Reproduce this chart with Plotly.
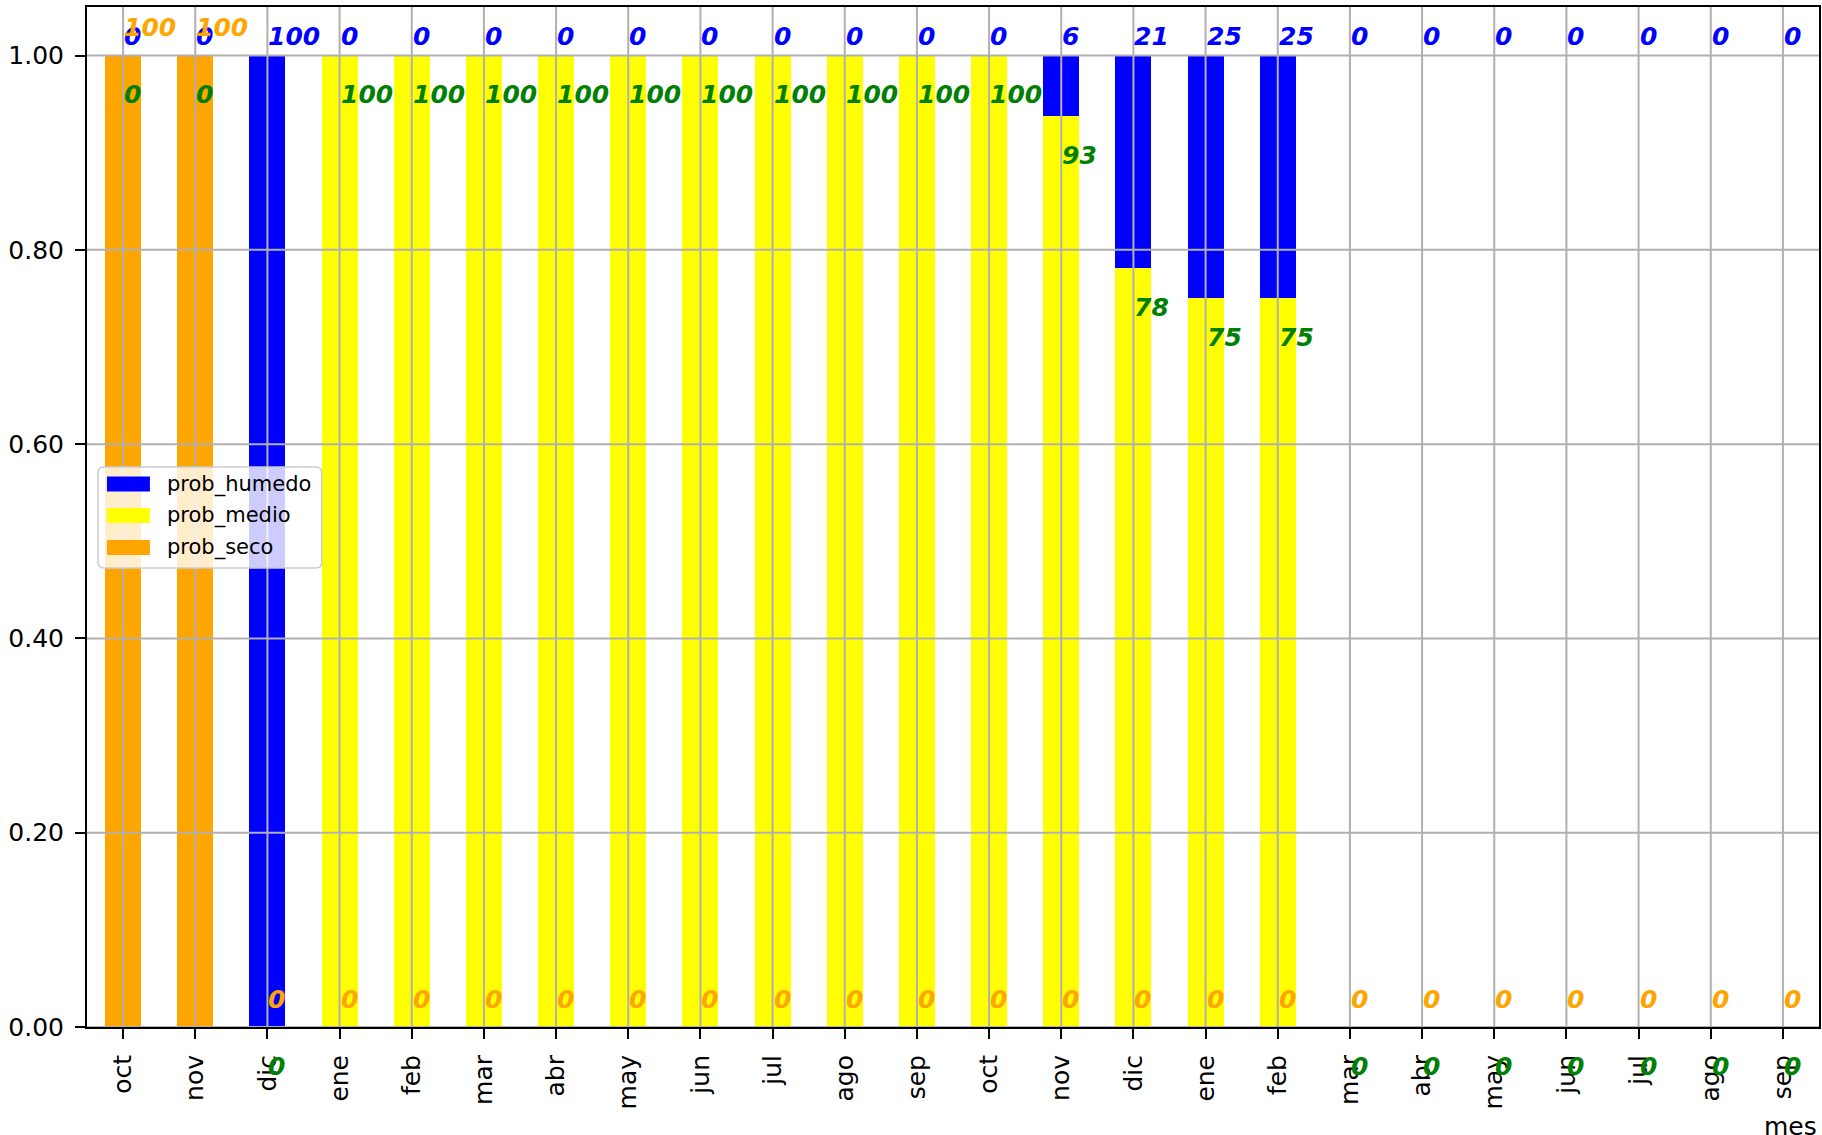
import plotly.graph_objects as go

# Month labels for the two hydrological years shown
meses = ["oct", "nov", "dic", "ene", "feb", "mar", "abr", "may", "jun", "jul", "ago", "sep",
         "oct", "nov", "dic", "ene", "feb", "mar", "abr", "may", "jun", "jul", "ago", "sep"]

# Probabilities of each scenario per month (fractions of 1)
prob_seco = [1.0, 1.0, 0.0, 0.0, 0.0, 0.0, 0.0, 0.0, 0.0, 0.0, 0.0, 0.0,
             0.0, 0.0, 0.0, 0.0, 0.0, 0.0, 0.0, 0.0, 0.0, 0.0, 0.0, 0.0]
prob_medio = [0.0, 0.0, 0.0, 1.0, 1.0, 1.0, 1.0, 1.0, 1.0, 1.0, 1.0, 1.0,
              1.0, 0.9375, 0.78125, 0.75, 0.75, 0.0, 0.0, 0.0, 0.0, 0.0, 0.0, 0.0]
prob_humedo = [0.0, 0.0, 1.0, 0.0, 0.0, 0.0, 0.0, 0.0, 0.0, 0.0, 0.0, 0.0,
               0.0, 0.0625, 0.21875, 0.25, 0.25, 0.0, 0.0, 0.0, 0.0, 0.0, 0.0, 0.0]

yticks = [0.0, 0.2, 0.4, 0.6, 0.8, 1.0]

series = [("prob_seco", prob_seco, "#ffa500"),
          ("prob_medio", prob_medio, "#ffff00"),
          ("prob_humedo", prob_humedo, "#0000ff")]

FONT = "DejaVu Sans"
GRID = "#b0b0b0"
W, H = 1822, 1135
ML, MR, MT, MB = 87, 1, 7, 108
PW, PH = W - ML - MR, H - MT - MB
x = list(range(len(meses)))


def px(X):
    """Pixel column -> paper x."""
    return (X - ML) / PW


def py(Y):
    """Pixel row -> paper y."""
    return (H - MB - Y) / PH


fig = go.Figure()
for name, vals, color in series:
    fig.add_trace(go.Bar(x=x, y=vals, name=name, width=0.5, showlegend=False,
                         marker=dict(color=color, line=dict(width=0))))

# Grid drawn on top of the bars
for xi in x:
    fig.add_shape(type="line", xref="x", yref="paper", x0=xi, x1=xi, y0=0, y1=1,
                  line=dict(color=GRID, width=2), layer="above")
for yv in yticks:
    fig.add_shape(type="line", xref="paper", yref="y", x0=0, x1=1, y0=yv, y1=yv,
                  line=dict(color=GRID, width=2), layer="above")


# Percentage labels (truncated to integers)
def label(xi, yv, shift, val, color):
    fig.add_annotation(x=xi, y=yv, xref="x", yref="y", yshift=shift,
                       text=str(int(val * 100)),
                       showarrow=False, xanchor="left", yanchor="middle",
                       borderpad=0,
                       font=dict(family=FONT, size=25, color=color,
                                 weight="bold", style="italic"))


for i in x:
    label(i, 1.0, 19, prob_humedo[i], "#0000ff")
for i in x:
    label(i, prob_seco[i] + prob_medio[i], -39, prob_medio[i], "#008000")
for i in x:
    label(i, prob_seco[i], 28, prob_seco[i], "#ffa500")

# Legend box (semi-transparent frame with rounded corners)
bx0, bx1, by0, by1 = 98, 322, 467, 568
r = 6
path = (f"M{px(bx0 + r)},{py(by0)} L{px(bx1 - r)},{py(by0)} "
        f"Q{px(bx1)},{py(by0)} {px(bx1)},{py(by0 + r)} "
        f"L{px(bx1)},{py(by1 - r)} Q{px(bx1)},{py(by1)} {px(bx1 - r)},{py(by1)} "
        f"L{px(bx0 + r)},{py(by1)} Q{px(bx0)},{py(by1)} {px(bx0)},{py(by1 - r)} "
        f"L{px(bx0)},{py(by0 + r)} Q{px(bx0)},{py(by0)} {px(bx0 + r)},{py(by0)} Z")
fig.add_shape(type="path", xref="paper", yref="paper", path=path,
              fillcolor="rgba(255,255,255,0.8)", line=dict(color="#cccccc", width=1.5),
              layer="above")
row_centers = [484, 515.5, 547.5]
for (name, _, color), yc in zip(reversed(series), row_centers):
    fig.add_shape(type="rect", xref="paper", yref="paper",
                  x0=px(107), x1=px(150), y0=py(yc - 7.5), y1=py(yc + 7.5),
                  fillcolor=color, line=dict(width=0), layer="above")
    fig.add_annotation(x=px(166), y=py(yc), xref="paper", yref="paper", text=name,
                       showarrow=False, xanchor="left", yanchor="middle", borderpad=0,
                       font=dict(family=FONT, size=21, color="black"))

fig.add_annotation(x=1, y=-0.098, xref="paper", yref="paper", text="mes",
                   showarrow=False, xanchor="right", yanchor="middle",
                   font=dict(family=FONT, size=25, color="black"))

fig.update_layout(
    width=W, height=H,
    margin=dict(l=ML, r=MR, t=MT, b=MB),
    barmode="stack",
    showlegend=False,
    plot_bgcolor="white", paper_bgcolor="white",
    font=dict(family=FONT, size=25, color="black"),
    xaxis=dict(range=[-0.5, 23.5], tickmode="array", tickvals=x, ticktext=meses,
               tickangle=-90, showgrid=False, zeroline=False,
               showline=True, mirror=True, linecolor="black", linewidth=2,
               ticks="outside", ticklen=10, tickwidth=2, tickcolor="black",
               ticklabelstandoff=6),
    yaxis=dict(range=[0, 1.05], tickmode="array", tickvals=yticks, tickformat=".2f",
               showgrid=False, zeroline=False,
               showline=True, mirror=True, linecolor="black", linewidth=2,
               ticks="outside", ticklen=10, tickwidth=2, tickcolor="black",
               ticklabelstandoff=6),
)

fig.write_html("out.html")
